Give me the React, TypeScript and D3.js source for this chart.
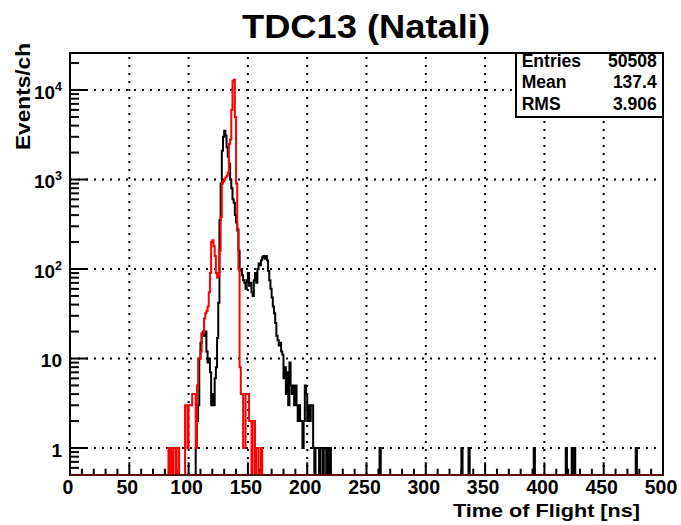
import React, { useEffect, useRef } from 'react';
import * as d3 from 'd3';

// Time of flight histogram, 1 ns per channel
const blackStart = 106;
const blackCounts = [
  1, 2, 3, 10, 15, 19, 20, 18, 20, 12, 9, 10, 7, 3, 4, 3, 6, 8, 17, 42,
  350, 900, 2100, 3000, 3500, 3100, 2300, 1800, 1500, 1000, 800, 600, 550, 400, 330, 270, 160, 95,
  100, 85, 75, 70, 60, 75, 90, 65, 70, 55, 50, 75, 90, 70, 100, 115, 110, 125, 135, 140, 130, 140,
  125, 95, 75, 60, 48, 38, 32, 25, 18, 16, 14, 15, 12, 11, 6, 8, 4, 7, 3, 9,
  5, 4, 5, 3, 5, 3, 2, 3, 2, 2, 1, 2, 5, 4, 2, 3, 2, 3, 3, 1,
  0, 1, 1, 1, 0, 1, 1, 0, 1, 1, 0, 1, 0, 1,
];
const blackSingles = [261, 330, 336, 391, 418, 423, 425, 477];

const redStart = 83;
const redCounts = [
  1, 0, 1, 0, 1, 1, 0, 1, 1, 0, 0, 0, 0, 0, 3, 3, 1, 3, 3, 3,
  4, 4, 4, 1, 5, 10, 10, 12, 19, 19, 28, 32, 34, 38, 55, 90, 200, 210, 180, 140,
  90, 80, 85, 160, 380, 900, 950, 1000, 1050, 1100, 1200, 2500, 2800, 6000, 12500, 13000, 5000, 900, 280, 100,
  8, 4, 4, 1, 1, 4, 4, 4, 2, 2, 0, 2, 2, 0, 1, 1, 0, 0, 1,
];

const xTicks = [0, 50, 100, 150, 200, 250, 300, 350, 400, 450, 500];
const yTicks = [1, 10, 100, 1000, 10000];
const statNames = ['Entries', 'Mean', 'RMS'];
const statValues = ['50508', '137.4', '3.906'];

const nBins = 500;
const font = '"Liberation Sans", Arial, sans-serif';

function fillBins(start: number, counts: number[], singles: number[] = []) {
  const bins = new Array(nBins).fill(0);
  counts.forEach((c, i) => { bins[start + i] = c; });
  singles.forEach((b) => { bins[b] = 1; });
  return bins;
}

export default function App() {
  const ref = useRef<SVGSVGElement>(null);

  useEffect(() => {
    document.body.style.margin = '0';
    const svg = d3.select(ref.current);
    svg.selectAll('*').remove();

    const left = 70, right = 663, top = 53, bottom = 475;
    const x = d3.scaleLinear().domain([0, 500]).range([left, right]);
    const y = d3.scaleLog().domain([1, 10000]).range([448, 90]);

    // white background
    svg.append('rect').attr('width', 681).attr('height', 525).attr('fill', '#fff');

    // grid
    const grid = svg.append('g')
      .attr('stroke', '#000')
      .attr('stroke-width', 2)
      .attr('stroke-dasharray', '2,6');
    grid.selectAll('.gx')
      .data(xTicks.slice(1, -1))
      .enter()
      .append('line')
      .attr('x1', d => x(d)).attr('x2', d => x(d))
      .attr('y1', bottom).attr('y2', top);
    grid.selectAll('.gy')
      .data(yTicks)
      .enter()
      .append('line')
      .attr('x1', left).attr('x2', right)
      .attr('y1', d => y(d)).attr('y2', d => y(d));

    // ticks
    const minorX = d3.range(0, 501, 10);
    svg.append('g').selectAll('line')
      .data(minorX)
      .enter()
      .append('line')
      .attr('x1', d => x(d)).attr('x2', d => x(d))
      .attr('y1', bottom)
      .attr('y2', d => bottom - (d % 50 === 0 ? 12.7 : 6.3))
      .attr('stroke', '#000')
      .attr('stroke-width', 2);

    const minorY: number[] = [];
    [-1, 0, 1, 2, 3, 4].forEach(k => {
      for (let m = 1; m < 10; m++) {
        const v = m * Math.pow(10, k);
        if (v >= 0.5 && v <= 25000) minorY.push(v);
      }
    });
    svg.append('g').selectAll('line')
      .data(minorY)
      .enter()
      .append('line')
      .attr('x1', left)
      .attr('x2', d => left + (yTicks.includes(d) ? 18 : 9))
      .attr('y1', d => y(d)).attr('y2', d => y(d))
      .attr('stroke', '#000')
      .attr('stroke-width', 2);

    // histograms, empty channels drawn on the frame bottom
    const line = (bins: number[]) => {
      const pts: [number, number][] = [];
      bins.forEach((c, i) => {
        const py = c > 0 ? y(c) : bottom;
        pts.push([x(i), py]);
        pts.push([x(i + 1), py]);
      });
      return d3.line()(pts);
    };

    svg.append('path')
      .attr('d', line(fillBins(blackStart, blackCounts, blackSingles)))
      .attr('fill', 'none')
      .attr('stroke', '#000')
      .attr('stroke-width', 2);

    svg.append('path')
      .attr('d', line(fillBins(redStart, redCounts)))
      .attr('fill', 'none')
      .attr('stroke', '#ff0000')
      .attr('stroke-width', 2);

    // frame
    svg.append('rect')
      .attr('x', left).attr('y', top)
      .attr('width', right - left).attr('height', bottom - top)
      .attr('fill', 'none')
      .attr('stroke', '#000')
      .attr('stroke-width', 2);
    // red empty channels show through the bottom axis
    svg.append('line')
      .attr('x1', left).attr('x2', right)
      .attr('y1', bottom).attr('y2', bottom)
      .attr('stroke', '#5a0c0c')
      .attr('stroke-width', 2);

    // x labels
    svg.append('g').selectAll('text')
      .data(xTicks)
      .enter()
      .append('text')
      .attr('x', d => x(d) - 2)
      .attr('y', 494)
      .attr('text-anchor', 'middle')
      .style('font-family', font)
      .style('font-weight', 700)
      .style('font-size', '19.5px')
      .text(d => d);

    // y labels
    const yl = svg.append('g').selectAll('text')
      .data(yTicks)
      .enter()
      .append('text')
      .attr('x', 62)
      .attr('y', d => y(d) + 8.5)
      .attr('text-anchor', 'end')
      .style('font-family', font)
      .style('font-weight', 700)
      .style('font-size', '19px');
    yl.each(function (d) {
      const t = d3.select(this);
      const e = Math.round(Math.log10(d));
      if (e < 2) {
        t.text(d);
      } else {
        t.append('tspan').text('10');
        t.append('tspan').attr('dy', -8).style('font-size', '12.5px').text(e);
      }
    });

    // titles
    svg.append('text')
      .attr('x', 366).attr('y', 37.7)
      .attr('text-anchor', 'middle')
      .attr('textLength', 248)
      .attr('lengthAdjust', 'spacingAndGlyphs')
      .style('font-family', font)
      .style('font-weight', 700)
      .style('font-size', '33px')
      .text('TDC13 (Natali)');

    svg.append('text')
      .attr('x', 640).attr('y', 516.7)
      .attr('text-anchor', 'end')
      .attr('textLength', 187)
      .attr('lengthAdjust', 'spacingAndGlyphs')
      .style('font-family', font)
      .style('font-weight', 700)
      .style('font-size', '18.5px')
      .text('Time of Flight [ns]');

    svg.append('text')
      .attr('transform', 'translate(30,96.5) rotate(-90)')
      .attr('text-anchor', 'middle')
      .attr('textLength', 107)
      .attr('lengthAdjust', 'spacingAndGlyphs')
      .style('font-family', font)
      .style('font-weight', 700)
      .style('font-size', '19.5px')
      .text('Events/ch');

    // stats box
    svg.append('rect')
      .attr('x', 516).attr('y', 53)
      .attr('width', right - 516).attr('height', 64)
      .attr('fill', '#fff')
      .attr('stroke', '#000')
      .attr('stroke-width', 2);
    const baselines = [67.3, 88.3, 110];
    statNames.forEach((n, i) => {
      svg.append('text')
        .attr('x', 521.7).attr('y', baselines[i])
        .style('font-family', font)
        .style('font-weight', 700)
        .style('font-size', '17.5px')
        .text(n);
      svg.append('text')
        .attr('x', 656.7).attr('y', baselines[i])
        .attr('text-anchor', 'end')
        .style('font-family', font)
        .style('font-weight', 700)
        .style('font-size', '17.5px')
        .text(statValues[i]);
    });
  }, []);

  return <svg ref={ref} width={681} height={525} style={{ display: 'block' }} />;
}
